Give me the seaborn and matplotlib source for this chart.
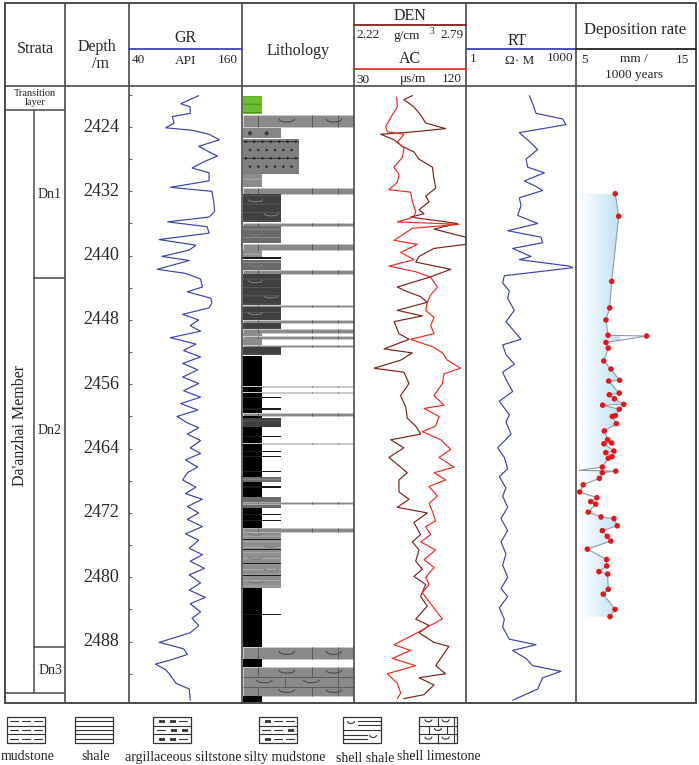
import numpy as np
import pandas as pd
import matplotlib
matplotlib.use("Agg")
import matplotlib.pyplot as plt
from matplotlib.patches import Arc, Rectangle
from matplotlib.colors import LinearSegmentedColormap
import seaborn as sns

# --- DATA ---
depth_ticks = [2424, 2432, 2440, 2448, 2456, 2464, 2472, 2480, 2488]

strata_names = ["Transition\nlayer", "Dn1", "Dn2", "Dn3", ""]
strata_top = [2418.9, 2421.9, 2442.8, 2488.7, 2494.4]
strata_base = [2421.9, 2442.8, 2488.7, 2494.4, 2495.64]
member_name = "Da'anzhai Member"

# GR (API) vs depth
gr_log = [
    (2420.1, 114), (2421.1, 95), (2421.5, 105), (2422.3, 105), (2422.7, 86), (2423.5, 88),
    (2424.1, 79), (2424.4, 107), (2424.9, 125), (2425.6, 136), (2426.4, 114), (2427.1, 125),
    (2427.6, 134), (2428.3, 120), (2429.1, 107), (2429.7, 125), (2430.7, 125), (2431.5, 84),
    (2432.0, 128), (2433.3, 130), (2434.5, 131), (2435.2, 125), (2435.8, 81), (2436.4, 123),
    (2437.2, 125), (2438.0, 72), (2438.7, 111), (2439.3, 104), (2440.1, 75), (2440.6, 104),
    (2441.7, 70), (2442.2, 100), (2442.9, 116), (2443.9, 118), (2444.5, 102), (2445.3, 127),
    (2445.9, 128), (2446.5, 125), (2447.3, 97), (2448.0, 114), (2448.7, 105), (2449.4, 116),
    (2450.2, 84), (2451.0, 111), (2451.8, 98), (2452.6, 116), (2453.4, 97), (2454.2, 113),
    (2455.1, 97), (2455.9, 114), (2456.8, 98), (2457.6, 116), (2458.4, 95), (2459.2, 113),
    (2460.0, 91), (2460.8, 102), (2461.4, 114), (2462.2, 102), (2463.0, 116), (2463.9, 105),
    (2464.6, 116), (2465.4, 100), (2466.3, 113), (2467.0, 102), (2467.9, 97), (2468.8, 111),
    (2469.6, 100), (2470.3, 118), (2471.2, 102), (2472.0, 114), (2472.8, 102), (2473.7, 118),
    (2474.6, 100), (2475.4, 114), (2476.4, 104), (2477.2, 118), (2478.0, 105), (2478.9, 120),
    (2479.7, 104), (2480.7, 116), (2481.6, 104), (2482.5, 121), (2483.3, 105), (2484.3, 116),
    (2485.1, 107), (2486.0, 114), (2486.9, 105), (2488.1, 72), (2488.9, 98), (2489.6, 102),
    (2490.3, 84), (2490.8, 68), (2491.5, 79), (2492.2, 84), (2493.2, 90), (2493.9, 104),
    (2495.3, 105),
]

# DEN (g/cm3) vs depth
den_log = [
    (2420.1, 2.517), (2420.6, 2.474), (2421.5, 2.525), (2422.5, 2.559), (2423.5, 2.585),
    (2424.2, 2.686), (2424.6, 2.525), (2424.9, 2.356), (2425.6, 2.424), (2426.4, 2.466),
    (2427.1, 2.525), (2428.0, 2.551), (2429.0, 2.619), (2430.4, 2.627), (2431.6, 2.636),
    (2432.6, 2.585), (2433.3, 2.602), (2434.3, 2.551), (2434.8, 2.576), (2435.2, 2.508),
    (2436.0, 2.746), (2436.7, 2.627), (2437.7, 2.788), (2438.6, 2.788), (2439.1, 2.627),
    (2440.1, 2.551), (2440.8, 2.534), (2441.7, 2.712), (2442.7, 2.602), (2443.9, 2.440),
    (2444.4, 2.483), (2445.1, 2.559), (2445.8, 2.593), (2446.8, 2.440), (2447.5, 2.568),
    (2448.2, 2.424), (2449.7, 2.449), (2450.4, 2.500), (2451.6, 2.373), (2452.1, 2.517),
    (2453.0, 2.457), (2454.0, 2.322), (2454.5, 2.474), (2455.9, 2.500), (2457.4, 2.457),
    (2458.8, 2.483), (2460.2, 2.491), (2461.2, 2.534), (2462.2, 2.559), (2462.9, 2.407),
    (2463.9, 2.474), (2465.1, 2.398), (2466.3, 2.457), (2467.0, 2.491), (2467.9, 2.449),
    (2469.4, 2.449), (2470.3, 2.500), (2471.3, 2.440), (2472.0, 2.593), (2473.2, 2.525),
    (2474.7, 2.559), (2475.6, 2.517), (2476.6, 2.551), (2478.0, 2.534), (2479.0, 2.568),
    (2479.9, 2.525), (2480.9, 2.585), (2482.4, 2.559), (2483.6, 2.593), (2485.2, 2.534),
    (2486.0, 2.602), (2486.9, 2.551), (2488.1, 2.627), (2488.6, 2.703), (2489.8, 2.669),
    (2491.0, 2.636), (2492.0, 2.686), (2492.5, 2.551), (2493.4, 2.627), (2494.6, 2.576),
    (2495.1, 2.474),
]

# AC (us/m) vs depth
ac_log = [
    (2420.3, 64.3), (2421.5, 64.8), (2422.5, 60.8), (2423.9, 55.5), (2424.6, 56.8),
    (2424.9, 70.2), (2425.9, 64.8), (2426.6, 70.2), (2427.8, 68.8), (2429.0, 62.1),
    (2429.9, 66.2), (2430.9, 64.8), (2431.8, 58.1), (2432.1, 75.5), (2433.3, 76.9),
    (2434.5, 79.6), (2435.2, 78.2), (2435.8, 64.8), (2436.1, 114.4), (2436.6, 76.9),
    (2438.1, 62.1), (2438.6, 80.9), (2439.6, 67.5), (2440.5, 78.2), (2441.3, 58.1),
    (2442.0, 79.6), (2442.7, 91.6), (2443.9, 97.0), (2444.9, 91.6), (2445.8, 88.9),
    (2446.8, 87.6), (2447.7, 94.3), (2448.7, 91.6), (2449.7, 94.3), (2450.4, 75.5),
    (2451.4, 94.3), (2452.1, 101.0), (2453.0, 105.0), (2454.0, 115.7), (2454.7, 102.3),
    (2455.9, 101.0), (2457.4, 94.3), (2458.6, 102.3), (2459.0, 86.3), (2460.0, 98.3),
    (2461.2, 95.6), (2461.9, 84.9), (2462.9, 99.7), (2464.1, 107.7), (2465.1, 98.3),
    (2466.3, 110.4), (2467.0, 94.3), (2467.9, 103.7), (2468.7, 90.3), (2469.9, 97.0),
    (2470.8, 90.3), (2471.8, 93.0), (2473.0, 95.6), (2473.7, 87.6), (2474.7, 91.6),
    (2475.6, 83.6), (2476.6, 95.6), (2477.8, 86.3), (2478.8, 94.3), (2480.0, 87.6),
    (2480.9, 90.3), (2481.9, 84.9), (2483.3, 91.6), (2485.2, 101.0), (2486.2, 88.9),
    (2486.9, 80.9), (2488.4, 62.1), (2489.1, 75.5), (2490.1, 60.8), (2491.0, 79.6),
    (2492.0, 56.8), (2493.2, 64.8), (2494.4, 67.5), (2495.1, 64.8),
]

# RT (ohm.m) vs depth
rt_log = [
    (2420.1, 53.4), (2421.1, 65.8), (2422.3, 81.2), (2423.0, 433), (2423.7, 534),
    (2424.7, 28.5), (2425.6, 48.1), (2426.8, 90.1), (2428.0, 43.3), (2429.0, 48.1),
    (2429.7, 137), (2430.7, 39.0), (2431.4, 81.2), (2431.9, 123), (2432.8, 28.5),
    (2433.8, 31.6), (2435.0, 25.7), (2436.0, 90.1), (2436.9, 13.7), (2437.7, 111),
    (2438.4, 123), (2439.1, 18.7), (2440.1, 59.3), (2440.5, 28.5), (2441.3, 658),
    (2441.5, 811), (2442.5, 11.1), (2443.4, 10.0), (2444.4, 15.2), (2445.3, 13.7),
    (2446.8, 20.8), (2448.2, 12.3), (2450.4, 31.6), (2451.1, 10.0), (2452.3, 12.3),
    (2453.5, 20.8), (2454.5, 10.0), (2455.4, 12.3), (2456.9, 18.7), (2458.1, 8.1),
    (2459.8, 15.2), (2460.7, 12.3), (2462.2, 16.9), (2463.9, 7.3), (2465.1, 11.1),
    (2466.5, 13.7), (2467.5, 8.1), (2468.9, 12.3), (2469.9, 10.0), (2471.3, 13.7),
    (2472.7, 9.0), (2474.2, 13.7), (2475.6, 9.0), (2477.1, 12.3), (2478.5, 10.0),
    (2480.0, 13.7), (2481.4, 9.0), (2482.4, 13.7), (2483.8, 8.1), (2485.2, 11.1),
    (2486.2, 10.0), (2487.7, 15.2), (2488.4, 81.2), (2489.1, 18.7), (2490.1, 43.3),
    (2491.0, 65.8), (2491.7, 390), (2492.5, 123), (2493.9, 90.1), (2495.3, 18.7),
]

# deposition rate (mm / 1000 years); last field: sample shown as a dot
dep_log = [
    (2432.3, 8.30, 1), (2435.1, 8.59, 1), (2443.2, 8.00, 1), (2446.5, 7.83, 1),
    (2448.0, 7.52, 1), (2449.9, 7.69, 1), (2450.0, 10.94, 1), (2450.8, 7.52, 1),
    (2451.5, 7.71, 1), (2453.1, 7.33, 1), (2454.1, 7.94, 1), (2455.5, 8.67, 1),
    (2455.6, 7.75, 1), (2457.1, 8.64, 1), (2457.3, 7.80, 1), (2457.8, 8.22, 1),
    (2458.5, 9.01, 1), (2458.6, 7.24, 1), (2459.1, 8.64, 1), (2459.9, 8.30, 1),
    (2460.0, 8.05, 1), (2460.9, 8.39, 1), (2461.8, 7.38, 1), (2462.9, 7.66, 1),
    (2463.3, 8.00, 1), (2463.4, 7.35, 1), (2464.3, 8.19, 1), (2464.5, 7.50, 1),
    (2465.0, 8.03, 1), (2465.2, 7.71, 1), (2466.3, 7.21, 1), (2466.7, 5.28, 0),
    (2466.8, 8.34, 1), (2467.0, 7.21, 1), (2467.7, 6.96, 1), (2468.5, 5.61, 1),
    (2469.4, 5.31, 1), (2470.1, 6.76, 1), (2470.6, 6.24, 1), (2470.9, 6.66, 1),
    (2471.9, 6.03, 1), (2472.5, 7.10, 1), (2472.7, 8.19, 1), (2473.6, 8.47, 1),
    (2474.2, 7.21, 1), (2474.9, 7.63, 1), (2475.5, 7.92, 1), (2476.5, 5.95, 1),
    (2477.8, 7.58, 1), (2478.6, 7.58, 1), (2479.3, 6.93, 1), (2479.6, 7.66, 1),
    (2481.5, 7.71, 1), (2482.1, 7.29, 1), (2484.0, 8.28, 1), (2484.9, 7.86, 1),
]

# lithology intervals (top, base, type) in drawing order
lith_log = [
    (2420.1, 2422.4, "green"), (2422.5, 2424.0, "limestone"), (2424.1, 2425.4, "silty"),
    (2425.5, 2429.8, "argsilt"), (2429.8, 2431.5, "mud"), (2431.6, 2432.3, "limestone"),
    (2432.3, 2435.8, "shale_dark"), (2435.9, 2436.3, "limestone"), (2436.3, 2438.4, "shale_mid"),
    (2438.6, 2439.3, "limestone"), (2439.3, 2440.2, "mud"), (2440.2, 2440.4, "line"),
    (2440.5, 2441.8, "shale_mid"), (2441.8, 2442.3, "limestone"), (2442.3, 2446.1, "shale_dark"),
    (2446.1, 2446.4, "limestone"), (2446.4, 2448.0, "shale_dark"), (2448.0, 2448.4, "limestone"),
    (2448.4, 2449.1, "shale_dark"), (2449.1, 2449.6, "limestone"), (2449.6, 2450.0, "mud"),
    (2450.0, 2450.4, "limestone"), (2450.4, 2451.1, "mud"), (2451.1, 2451.4, "limestone"),
    (2451.4, 2452.4, "shale_dark"), (2452.5, 2456.2, "black"), (2456.2, 2456.3, "limestone"),
    (2456.3, 2457.0, "black"), (2457.0, 2457.1, "limestone"), (2457.1, 2459.6, "black"),
    (2457.6, 2457.75, "line"), (2459.0, 2459.15, "line"), (2459.6, 2459.9, "limestone"),
    (2459.9, 2460.2, "black"), (2460.2, 2461.3, "shale_dark"), (2461.3, 2463.3, "black"),
    (2462.4, 2462.55, "line"), (2463.3, 2463.4, "limestone"), (2463.4, 2470.0, "black"),
    (2464.3, 2464.45, "line"), (2464.9, 2465.05, "line"), (2466.8, 2466.95, "line"),
    (2467.5, 2468.2, "shale_mid"), (2468.7, 2468.85, "line"), (2470.0, 2471.4, "shale_mid"),
    (2470.6, 2470.9, "limestone"), (2471.4, 2473.9, "black"), (2472.1, 2472.25, "line"),
    (2472.9, 2473.05, "line"), (2473.9, 2481.3, "shale_light"), (2473.9, 2474.4, "limestone"),
    (2475.2, 2475.35, "line"), (2476.5, 2476.65, "line"), (2478.2, 2478.35, "line"),
    (2479.7, 2479.85, "line"), (2481.3, 2488.7, "black"), (2484.6, 2484.75, "line"),
    (2488.7, 2490.2, "limestone"), (2490.2, 2491.2, "black"), (2491.2, 2494.8, "limestone"),
    (2494.8, 2495.6, "black"),
]

legend_names = ["mudstone", "shale", "argillaceous siltstone", "silty mudstone",
                "shell shale", "shell limestone"]

# --- STYLE ---
W, H = 699, 765
TOP_D, BOT_D = 2418.9, 2495.64
LC = "#4a4a4a"
BLUE = "#3a43b0"
DEN_C = "#7a2418"
AC_C = "#ee2a1f"

LITH_STYLE = {
    "green": dict(w=0.17, fc="#6dbe2d", hatch="--", ec="#3f8a1a"),
    "limestone": dict(w=1.0, fc="#8a8a8a", hatch=None, ec="#cfcfcf"),
    "silty": dict(w=0.34, fc="#868686", hatch="-.", ec="#3a3a3a"),
    "argsilt": dict(w=0.50, fc="#7f7f7f", hatch="-..", ec="#2a2a2a"),
    "mud": dict(w=0.17, fc="#8c8c8c", hatch="--", ec="#b5b5b5"),
    "shale_dark": dict(w=0.34, fc="#404040", hatch="--", ec="#5c5c5c"),
    "shale_mid": dict(w=0.34, fc="#6a6a6a", hatch="--", ec="#929292"),
    "shale_light": dict(w=0.34, fc="#8e8e8e", hatch="---", ec="#b3b3b3"),
    "black": dict(w=0.17, fc="#000000", hatch=None, ec="#000000"),
    "line": dict(w=0.34, fc="#1a1a1a", hatch=None, ec="#1a1a1a"),
}

sns.set_style("white")
plt.rcParams["font.family"] = ["Liberation Serif", "DejaVu Serif"]
plt.rcParams["hatch.linewidth"] = 0.6

fig = plt.figure(figsize=(W / 100, H / 100), dpi=100)


def track(x0, x1, y0=86, y1=703):
    ax = fig.add_axes([x0 / W, 1 - y1 / H, (x1 - x0) / W, (y1 - y0) / H])
    ax.patch.set_alpha(0)
    return ax


def finish(ax, xlim, log=False):
    if log:
        ax.set_xscale("log")
    ax.set_xlim(*xlim)
    ax.set_ylim(BOT_D, TOP_D)
    ax.axis("off")


gr = pd.DataFrame(gr_log, columns=["depth", "gr"])
den = pd.DataFrame(den_log, columns=["depth", "den"])
ac = pd.DataFrame(ac_log, columns=["depth", "ac"])
rt = pd.DataFrame(rt_log, columns=["depth", "rt"])
dep = pd.DataFrame(dep_log, columns=["depth", "rate", "dot"])
lith = pd.DataFrame(lith_log, columns=["top", "base", "kind"])

# --- strata column ---
ax_s = track(5, 65)
for name, t, b in zip(strata_names, strata_top, strata_base):
    if name.startswith("Transition"):
        ax_s.text(0.5, (t + b) / 2, name, ha="center", va="center", fontsize=7.5, linespacing=0.95)
    elif name:
        shift = -4.0 if name == "Dn2" else 0.0
        ax_s.text(0.75, (t + b) / 2 + shift, name, ha="center", va="center", fontsize=10)
for t in strata_top[1:]:
    x_from = 0.0 if t in (strata_top[1], strata_top[-1]) else 0.483
    ax_s.plot([x_from, 1], [t, t], color=LC, lw=1.1)
ax_s.plot([0.483, 0.483], [strata_top[1], strata_top[-1]], color=LC, lw=1.1)
ax_s.text(0.25, (strata_top[1] + strata_top[-1]) / 2 + 3.0, member_name, rotation=90,
          ha="center", va="center", fontsize=11.5)
finish(ax_s, (0, 1))

# --- depth column ---
ax_d = track(65, 129)
for d in depth_ticks:
    ax_d.text(0.56, d, str(d), ha="center", va="center", fontsize=13)
finish(ax_d, (0, 1))

# --- GR ---
ax_gr = track(129, 242)
ax_gr.hlines(np.arange(2420, 2496, 4), 40, 43, color="#666666", lw=0.8)
sns.lineplot(data=gr, x="gr", y="depth", orient="y", sort=False, estimator=None,
             color=BLUE, lw=0.85, ax=ax_gr)
finish(ax_gr, (40, 160))

# --- lithology ---
ax_l = track(242, 354)
for _, r in lith.iterrows():
    st = LITH_STYLE[r.kind]
    thick = r.base - r.top
    ax_l.barh((r.top + r.base) / 2, st["w"], height=thick, left=0.01, color=st["fc"],
              hatch=st["hatch"], edgecolor=st["ec"], linewidth=0.4 if r.kind == "limestone" else 0)
    if r.kind == "limestone":
        rows = max(1, int(round(thick / 1.2)))
        rh = thick / rows
        for i in range(rows):
            y0 = r.top + i * rh
            vx = [0.14, 0.625, 0.86] if i % 2 == 0 else [0.38, 0.86]
            ax_l.vlines(vx, y0, y0 + rh, color="#5a5a5a", lw=0.7)
            if i > 0:
                ax_l.hlines(y0, 0.01, 1.0, color="#5a5a5a", lw=0.7)
            if rh > 0.8:
                ax_x = [0.4, 0.82] if i % 2 == 0 else [0.2, 0.62]
                for cx in ax_x:
                    ax_l.add_patch(Arc((cx, y0 + rh * 0.3), 0.14, rh * 0.6, theta1=0, theta2=180,
                                       color="#4a4a4a", lw=0.8))
    elif r.kind.startswith("shale") and thick > 1.2:
        n = int(thick // 1.3)
        for i in range(n):
            cx = 0.12 if i % 2 == 0 else 0.26
            ax_l.add_patch(Arc((cx, r.top + (i + 0.4) * thick / n), 0.13, 0.6, theta1=0,
                               theta2=180, color="#7a7a7a", lw=0.8))
finish(ax_l, (0, 1))

# --- DEN / AC ---
ax_den = track(354, 466)
sns.lineplot(data=den, x="den", y="depth", orient="y", sort=False, estimator=None,
             color=DEN_C, lw=0.85, ax=ax_den)
finish(ax_den, (2.22, 2.79))
ax_ac = track(354, 466)
sns.lineplot(data=ac, x="ac", y="depth", orient="y", sort=False, estimator=None,
             color=AC_C, lw=0.85, ax=ax_ac)
finish(ax_ac, (30, 120))

# --- RT ---
ax_rt = track(466, 576)
sns.lineplot(data=rt, x="rt", y="depth", orient="y", sort=False, estimator=None,
             color=BLUE, lw=0.85, ax=ax_rt)
finish(ax_rt, (1, 1000), log=True)

# --- deposition rate ---
ax_dr = track(576, 695)
poly = ax_dr.fill_betweenx(dep["depth"], 5, dep["rate"], color="none", lw=0)
cmap = LinearSegmentedColormap.from_list("dep", ["#ffffff", "#bfe0f3"])
im = ax_dr.imshow(np.linspace(0, 1, 256).reshape(1, -1), extent=[5.3, 8.6, BOT_D, TOP_D],
                  aspect="auto", cmap=cmap, zorder=0)
im.set_clip_path(poly.get_paths()[0], transform=ax_dr.transData)
sns.lineplot(data=dep, x="rate", y="depth", orient="y", sort=False, estimator=None,
             color="#8d9bab", lw=0.8, ax=ax_dr, zorder=2)
sns.scatterplot(data=dep[dep["dot"] == 1], x="rate", y="depth", color="#e8141b", s=16,
                edgecolor="none", ax=ax_dr, zorder=3)
finish(ax_dr, (5, 15))

# --- frame, header and legend (pixel overlay) ---
ax0 = fig.add_axes([0, 0, 1, 1])
ax0.patch.set_visible(False)
ax0.set_xlim(0, W)
ax0.set_ylim(H, 0)
ax0.axis("off")

ax0.add_patch(Rectangle((5, 3), 691, 700, fill=False, ec=LC, lw=1.4))
for x in [65, 129, 242, 354, 466, 576]:
    ax0.plot([x, x], [3, 703], color=LC, lw=1.2)
ax0.plot([5, 696], [86, 86], color=LC, lw=1.2)
ax0.plot([129, 242], [49, 49], color=BLUE, lw=1.3)
ax0.plot([466, 576], [49, 49], color=BLUE, lw=1.3)
ax0.plot([576, 696], [49, 49], color="#222222", lw=1.3)
ax0.plot([354, 466], [25, 25], color=DEN_C, lw=1.3)
ax0.plot([354, 466], [69, 69], color=AC_C, lw=1.3)

hf, sf = 11.5, 9.5
ax0.text(35, 49, "Strata", ha="center", va="center", fontsize=hf)
ax0.text(97, 47, "Depth", ha="center", va="center", fontsize=hf)
ax0.text(100, 64, "/m", ha="center", va="center", fontsize=hf)
ax0.text(185, 38, "GR", ha="center", va="center", fontsize=hf)
ax0.text(132, 60, "40", ha="left", va="center", fontsize=sf)
ax0.text(186, 61, "API", ha="center", va="center", fontsize=sf)
ax0.text(238, 60, "160", ha="right", va="center", fontsize=sf)
ax0.text(298, 51, "Lithology", ha="center", va="center", fontsize=hf)
ax0.text(410, 16, "DEN", ha="center", va="center", fontsize=hf)
ax0.text(356, 35, "2.22", ha="left", va="center", fontsize=sf)
ax0.text(407, 36, "g/cm", ha="center", va="center", fontsize=sf)
ax0.text(432, 31, "3", ha="center", va="center", fontsize=7)
ax0.text(464, 35, "2.79", ha="right", va="center", fontsize=sf)
ax0.text(410, 59, "AC", ha="center", va="center", fontsize=hf)
ax0.text(356, 80, "30", ha="left", va="center", fontsize=sf)
ax0.text(413, 79, "μs/m", ha="center", va="center", fontsize=sf)
ax0.text(462, 79, "120", ha="right", va="center", fontsize=sf)
ax0.text(517, 41, "RT", ha="center", va="center", fontsize=hf)
ax0.text(470, 59, "1", ha="left", va="center", fontsize=sf)
ax0.text(520, 61, "Ω· M", ha="center", va="center", fontsize=sf)
ax0.text(573, 58, "1000", ha="right", va="center", fontsize=sf)
ax0.text(635, 30, "Deposition rate", ha="center", va="center", fontsize=12)
ax0.text(581, 60, "5", ha="left", va="center", fontsize=sf)
ax0.text(634, 59, "mm /", ha="center", va="center", fontsize=sf)
ax0.text(689, 60, "15", ha="right", va="center", fontsize=sf)
ax0.text(634, 75, "1000 years", ha="center", va="center", fontsize=sf)

# legend patterns
BY, BH, BW = 717, 26, 38
lk = dict(color="#333333", lw=0.8)


def dash(x0, x1, y):
    ax0.plot([x0, x1], [y, y], **lk)


def dots(x, y):
    ax0.plot([x - 1.5, x + 1.5], [y, y], ls="none", marker="s", ms=1.2, color="#333333")


def smile(cx, cy, w=7, h=5):
    ax0.add_patch(Arc((cx, cy), w, h, theta1=0, theta2=180, **lk))


legend_x = [7, 75, 153, 259, 343, 419]
legend_label_x = [28, 96, 183, 285, 365, 439]
rows = [BY + BH / 6, BY + BH / 2, BY + 5 * BH / 6]
for kind, x0 in zip(legend_names, legend_x):
    ax0.add_patch(Rectangle((x0, BY), BW, BH, fill=False, ec="#333333", lw=0.9))
    if kind in ("mudstone", "argillaceous siltstone", "silty mudstone", "shell limestone"):
        dash(x0, x0 + BW, BY + BH / 3)
        dash(x0, x0 + BW, BY + 2 * BH / 3)
    if kind == "mudstone":
        for y in rows:
            for a in (3, 15, 27):
                dash(x0 + a, x0 + a + 8, y)
    elif kind == "shale":
        for k in range(1, 6):
            dash(x0, x0 + BW, BY + BH * k / 6)
    elif kind == "argillaceous siltstone":
        for i, y in enumerate(rows):
            if i == 1:
                dash(x0 + 4, x0 + 12, y); dots(x0 + 20, y); dots(x0 + 31, y)
            else:
                dots(x0 + 8, y); dots(x0 + 19, y); dash(x0 + 26, x0 + 34, y)
    elif kind == "silty mudstone":
        for i, y in enumerate(rows):
            if i == 1:
                dash(x0 + 3, x0 + 11, y); dash(x0 + 15, x0 + 23, y); dots(x0 + 31, y)
            else:
                dots(x0 + 8, y); dash(x0 + 15, x0 + 23, y); dash(x0 + 27, x0 + 35, y)
    elif kind == "shell shale":
        smile(x0 + 8, BY + 4)
        dash(x0 + 15, x0 + BW, BY + 4); dash(x0 + 15, x0 + BW, BY + 8)
        dash(x0, x0 + BW, BY + 13)
        dash(x0, x0 + 24, BY + 18); dash(x0, x0 + 24, BY + 22)
        smile(x0 + 30, BY + 18)
    elif kind == "shell limestone":
        ax0.plot([x0 + BW - 3, x0 + BW - 3], [BY, BY + BH], **lk)
        ax0.plot([x0 + BW / 2, x0 + BW / 2], [BY, BY + BH / 3], **lk)
        ax0.plot([x0 + BW * 0.27] * 2, [BY + BH / 3, BY + 2 * BH / 3], **lk)
        ax0.plot([x0 + BW * 0.73] * 2, [BY + BH / 3, BY + 2 * BH / 3], **lk)
        ax0.plot([x0 + BW / 2, x0 + BW / 2], [BY + 2 * BH / 3, BY + BH], **lk)
        for cx in (0.25, 0.7):
            smile(x0 + BW * cx, rows[0] - 2)
            smile(x0 + BW * cx, rows[2] - 2)
        smile(x0 + BW * 0.5, rows[1] - 2)

for name, lx in zip(legend_names, legend_label_x):
    ax0.text(lx, 759 if name == "shell shale" else 757, name, ha="center", va="center",
             fontsize=10)

fig.savefig("out.png", dpi=100)
